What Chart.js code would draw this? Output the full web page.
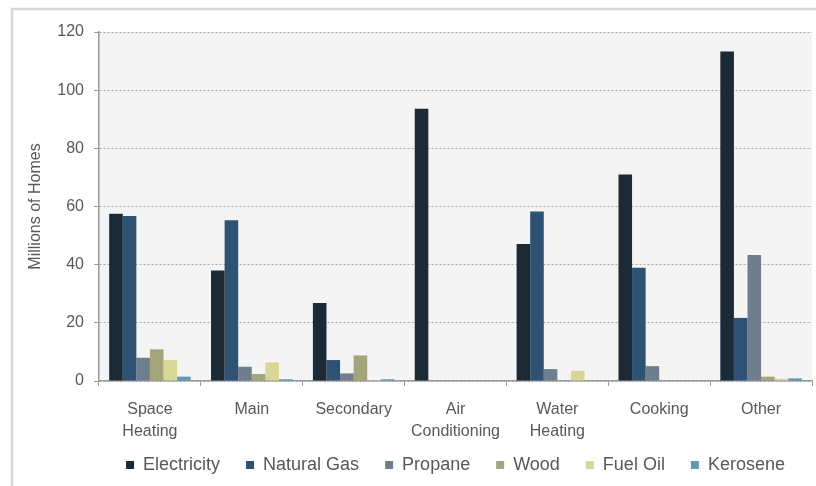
<!DOCTYPE html>
<html>
<head>
<meta charset="utf-8">
<title>Home Energy Use by Fuel</title>
<script src="https://cdn.jsdelivr.net/npm/chart.js@4/dist/chart.umd.min.js"></script>
<style>
  html, body { margin: 0; padding: 0; background: #ffffff; }
  #wrap { position: relative; width: 816px; height: 486px; }
</style>
</head>
<body>
<div id="wrap"><canvas id="c" width="816" height="486"></canvas></div>
<script>
// End uses (categories) and homes served by each fuel, in millions
const categories = [['Space', 'Heating'], 'Main', 'Secondary', ['Air', 'Conditioning'], ['Water', 'Heating'], 'Cooking', 'Other'];
const electricity = [57.5, 38.0, 26.8, 93.6, 47.1, 71.0, 113.3];
const naturalGas  = [56.7, 55.3, 7.2, 0, 58.3, 38.9, 21.7];
const propane     = [8.0, 4.9, 2.6, 0, 4.1, 5.1, 43.3];
const wood        = [10.9, 2.4, 8.8, 0, 0, 0, 1.5];
const fuelOil     = [7.2, 6.4, 0.3, 0, 3.5, 0, 0.8];
const kerosene    = [1.5, 0.6, 0.6, 0, 0, 0, 0.9];
const yTicks      = [0, 20, 40, 60, 80, 100, 120];

const textColor = '#585858';
const fontFamily = '"Liberation Sans", Arial, sans-serif';

// Light frame around the figure and grey fill behind the plot
const framePlugin = {
  id: 'frame',
  afterLayout(chart) {
    // let the two-line category labels run past the axis box without clipping
    const x = chart.scales.x;
    x.bottom = x.top + 66;
  },
  beforeDraw(chart) {
    const { ctx, chartArea: a } = chart;
    ctx.save();
    ctx.fillStyle = '#f4f4f4';
    ctx.fillRect(a.left, a.top, a.right - a.left, a.bottom - a.top);
    ctx.strokeStyle = '#d6d6d6';
    ctx.lineWidth = 2.5;
    ctx.beginPath();
    ctx.moveTo(12, 490);
    ctx.lineTo(12, 9);
    ctx.lineTo(820, 9);
    ctx.stroke();
    ctx.restore();
  }
};

const series = [
  { label: 'Electricity', data: electricity, color: '#1c2a35' },
  { label: 'Natural Gas', data: naturalGas,  color: '#2d5274' },
  { label: 'Propane',     data: propane,     color: '#6f7e8e' },
  { label: 'Wood',        data: wood,        color: '#a4a67a' },
  { label: 'Fuel Oil',    data: fuelOil,     color: '#d8d796' },
  { label: 'Kerosene',    data: kerosene,    color: '#5d9ab8' }
];

new Chart(document.getElementById('c'), {
  type: 'bar',
  data: {
    labels: categories,
    datasets: series.map(s => ({
      label: s.label,
      data: s.data,
      backgroundColor: s.color,
      borderWidth: 0,
      categoryPercentage: 0.8,
      barPercentage: 1.0
    }))
  },
  options: {
    responsive: false,
    animation: false,
    devicePixelRatio: 1,
    layout: { padding: { left: 0, right: 4, top: 32, bottom: 2 } },
    plugins: {
      tooltip: { enabled: false },
      legend: {
        position: 'bottom',
        fullSize: false,
        labels: {
          boxWidth: 8,
          boxHeight: 8,
          padding: 26,
          color: textColor,
          font: { family: fontFamily, size: 18 }
        }
      }
    },
    scales: {
      x: {
        grid: {
          display: true,
          drawOnChartArea: false,
          drawTicks: true,
          tickLength: 5,
          color: '#9a9a9a',
          tickColor: '#9a9a9a',
          offset: true
        },
        border: { display: true, color: '#9a9a9a', width: 1.5 },
        ticks: {
          color: textColor,
          padding: 13,
          maxRotation: 0,
          autoSkip: false,
          font: { family: fontFamily, size: 16, lineHeight: 1.35 }
        },
        afterFit(scale) { scale.height = 49; }
      },
      y: {
        min: 0,
        max: 120,
        afterBuildTicks(scale) { scale.ticks = yTicks.map(v => ({ value: v })); },
        grid: {
          color: '#a8a8a8',
          lineWidth: 1,
          tickLength: 5,
          tickColor: '#9a9a9a',
          tickBorderDash: []
        },
        border: { display: true, color: '#9a9a9a', width: 1.5, dash: [2, 2] },
        ticks: {
          color: textColor,
          padding: 10,
          font: { family: fontFamily, size: 16 }
        },
        title: {
          display: true,
          text: 'Millions of Homes',
          color: textColor,
          padding: { top: 26, bottom: 0 },
          font: { family: fontFamily, size: 16 }
        },
        afterFit(scale) { scale.width = 99; }
      }
    }
  },
  plugins: [framePlugin]
});
</script>
</body>
</html>
